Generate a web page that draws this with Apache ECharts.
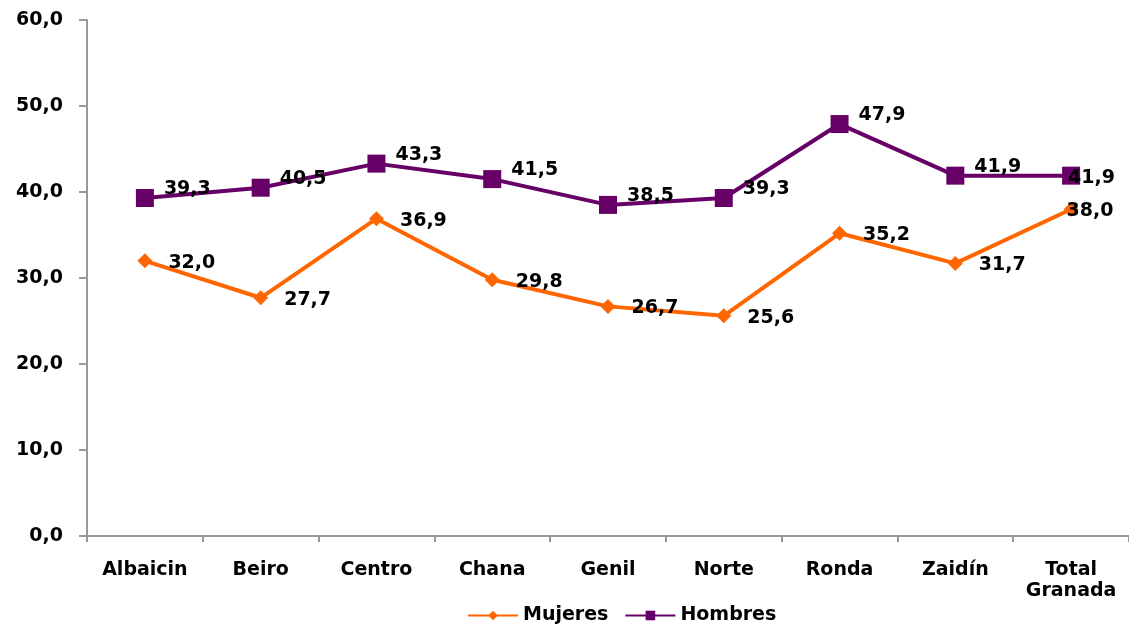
<!DOCTYPE html>
<html>
<head>
<meta charset="utf-8">
<style>
    html, body { margin: 0; padding: 0; background: #fff; }
    #chart { width: 1129px; height: 624px; }
</style>
<script src="https://cdn.jsdelivr.net/npm/echarts@6/dist/echarts.min.js"></script>
</head>
<body>
<div id="chart"></div>
<script>
    let categories = ['Albaicin', 'Beiro', 'Centro', 'Chana', 'Genil', 'Norte', 'Ronda', 'Zaidín', 'Total\nGranada'];
    let mujeres = [32.0, 27.7, 36.9, 29.8, 26.7, 25.6, 35.2, 31.7, 38.0];
    let hombres = [39.3, 40.5, 43.3, 41.5, 38.5, 39.3, 47.9, 41.9, 41.9];
    let yTicks = { min: 0, max: 60, interval: 10 };

    let font = 'DejaVu Sans';
    let fmt = function (v) {
        return Number(v).toFixed(1).replace('.', ',');
    };

    // last point sits on the right edge: pull its label back over the marker
    let withEdgeLabel = function (arr, dy) {
        return arr.map(function (v, i) {
            if (i < arr.length - 1) return v;
            return { value: v, label: { position: 'right', distance: -12, offset: [0, dy] } };
        });
    };

    let chart = echarts.init(document.getElementById('chart'));
    chart.setOption({
        backgroundColor: '#fff',
        animation: false,
        grid: {
            left: 87,
            right: 0,
            top: 20,
            bottom: 88
        },
        legend: {
            top: 601,
            left: 462,
            itemWidth: 50,
            itemHeight: 12,
            itemGap: 16,
            textStyle: { fontFamily: font, fontWeight: 'bold', fontSize: 19, color: '#000' },
            data: ['Mujeres', 'Hombres']
        },
        xAxis: {
            type: 'category',
            data: categories,
            boundaryGap: true,
            axisLine: { lineStyle: { color: '#999', width: 2 } },
            axisTick: { show: true, length: 6, lineStyle: { color: '#999', width: 2 } },
            axisLabel: {
                margin: 24,
                interval: 0,
                color: '#000',
                fontFamily: font,
                fontWeight: 'bold',
                fontSize: 19,
                lineHeight: 21
            }
        },
        yAxis: {
            type: 'value',
            min: yTicks.min,
            max: yTicks.max,
            interval: yTicks.interval,
            splitLine: { show: false },
            axisLine: { show: true, lineStyle: { color: '#999', width: 2 } },
            axisTick: { show: true, length: 8, lineStyle: { color: '#999', width: 2 } },
            axisLabel: {
                margin: 24,
                color: '#000',
                fontFamily: font,
                fontWeight: 'bold',
                fontSize: 19,
                formatter: fmt
            }
        },
        series: [
            {
                name: 'Mujeres',
                type: 'line',
                data: withEdgeLabel(mujeres, 2),
                symbol: 'diamond',
                symbolSize: 15,
                color: '#FF6600',
                lineStyle: { width: 4, color: '#FF6600' },
                itemStyle: { color: '#FF6600' },
                label: {
                    show: true,
                    position: 'right',
                    distance: 16,
                    offset: [0, 2],
                    color: '#000',
                    fontFamily: font,
                    fontWeight: 'bold',
                    fontSize: 19,
                    formatter: function (p) { return fmt(p.value); }
                },
                z: 3
            },
            {
                name: 'Hombres',
                type: 'line',
                data: withEdgeLabel(hombres, 2),
                symbol: 'rect',
                symbolSize: 18,
                color: '#660066',
                lineStyle: { width: 4, color: '#660066' },
                itemStyle: { color: '#660066' },
                label: {
                    show: true,
                    position: 'right',
                    distance: 10,
                    offset: [0, -9],
                    color: '#000',
                    fontFamily: font,
                    fontWeight: 'bold',
                    fontSize: 19,
                    formatter: function (p) { return fmt(p.value); }
                },
                z: 2
            }
        ]
    });
</script>
</body>
</html>
